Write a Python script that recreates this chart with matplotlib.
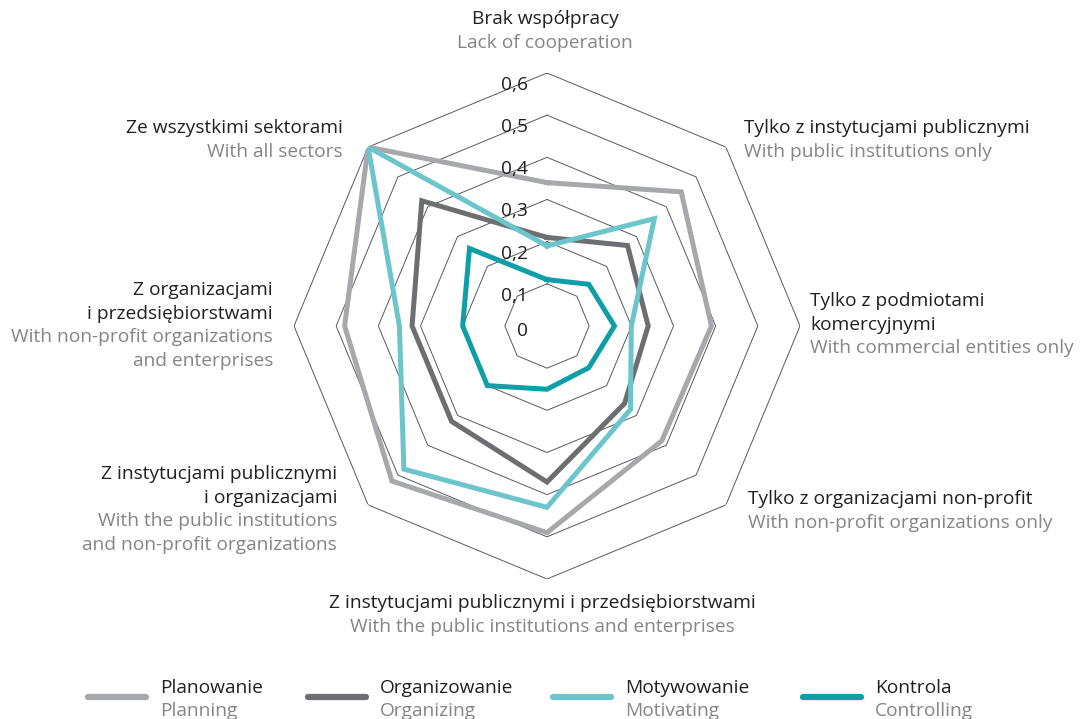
import numpy as np
import matplotlib
matplotlib.use("Agg")
import matplotlib.pyplot as plt
from matplotlib.lines import Line2D

plt.rcParams['font.family'] = ['Open Sans', 'DejaVu Sans']

# axes, clockwise from the top
labels_pl = ['Brak współpracy', 'Tylko z instytucjami publicznymi', 'Tylko z podmiotami\nkomercyjnymi',
             'Tylko z organizacjami non-profit', 'Z instytucjami publicznymi i przedsiębiorstwami',
             'Z instytucjami publicznymi\ni organizacjami', 'Z organizacjami\ni przedsiębiorstwami',
             'Ze wszystkimi sektorami']
labels_en = ['Lack of cooperation', 'With public institutions only', 'With commercial entities only',
             'With non-profit organizations only', 'With the public institutions and enterprises',
             'With the public institutions\nand non-profit organizations',
             'With non-profit organizations\nand enterprises', 'With all sectors']

planowanie = [0.34, 0.45, 0.39, 0.385, 0.49, 0.52, 0.48, 0.60]
organizowanie = [0.21, 0.27, 0.24, 0.26, 0.37, 0.32, 0.32, 0.42]
motywowanie = [0.19, 0.36, 0.20, 0.28, 0.43, 0.48, 0.35, 0.60]
kontrola = [0.11, 0.14, 0.16, 0.14, 0.15, 0.20, 0.20, 0.26]

series_pl = ['Planowanie', 'Organizowanie', 'Motywowanie', 'Kontrola']
series_en = ['Planning', 'Organizing', 'Motivating', 'Controlling']
colors = ['#a7a8ac', '#6d6e72', '#6cc5ca', '#0e9ea6']

ticks = [0, 0.1, 0.2, 0.3, 0.4, 0.5, 0.6]
tick_labels = ['0', '0,1', '0,2', '0,3', '0,4', '0,5', '0,6']

DARK = '#231f20'
GREY = '#848588'
FS = 13.8

W, H = 1083, 719
fig = plt.figure(figsize=(W / 100, H / 100), dpi=100)
cx, cy, R = 547, 326, 253
ax = fig.add_axes([(cx - R) / W, 1 - (cy + R) / H, 2 * R / W, 2 * R / H], projection='polar')
ax.set_theta_offset(np.pi / 2)
ax.set_theta_direction(-1)
ax.set_ylim(0, 0.6)
ax.grid(False)
ax.spines['polar'].set_visible(False)
ax.set_xticks([])
ax.set_yticks([])
ax.patch.set_alpha(0)

n = len(labels_pl)
theta = np.arange(n + 1) * 2 * np.pi / n

# octagon grid
for t in ticks[1:]:
    ax.plot(theta, [t] * (n + 1), color='#58595b', lw=0.7, zorder=1)

lines = []
for vals, c in zip([planowanie, organizowanie, motywowanie, kontrola], colors):
    ln, = ax.plot(theta, list(vals) + [vals[0]], color=c, lw=3.6, solid_joinstyle='miter', zorder=3)
    lines.append(ln)

for t, lab in zip(ticks, tick_labels):
    dy = -5 if t == 0 else -12
    ax.annotate(lab, xy=(0, t), xytext=(-19, dy), textcoords='offset pixels',
                ha='right', va='center', fontsize=FS, color=DARK, zorder=5)

# category labels: (x, y of first line, alignment)
label_pos = [(545, 19, 'center'), (744, 128, 'left'), (810, 301, 'left'), (748, 499, 'left'),
             (542, 603, 'center'), (337, 474, 'right'), (273, 290, 'right'), (343, 128, 'right')]
step = 23.7
for (x, y, ha), pl, en in zip(label_pos, labels_pl, labels_en):
    npl = pl.count('\n') + 1
    for i, s in enumerate(pl.split('\n')):
        fig.text(x / W, 1 - (y + i * step) / H, s, ha=ha, va='center', fontsize=FS, color=DARK)
    for i, s in enumerate(en.split('\n')):
        fig.text(x / W, 1 - (y + (npl + i) * step) / H, s, ha=ha, va='center', fontsize=FS, color=GREY)

# legend
leg_x = [88, 308, 553, 803]
for x0, ln, pl, en in zip(leg_x, lines, series_pl, series_en):
    fig.add_artist(Line2D([(x0) / W, (x0 + 58) / W], [1 - 697 / H] * 2, color=ln.get_color(),
                          lw=4.5, solid_capstyle='round', transform=fig.transFigure))
    fig.text((x0 + 72) / W, 1 - 688 / H, pl, ha='left', va='center', fontsize=FS, color=DARK)
    fig.text((x0 + 72) / W, 1 - 711 / H, en, ha='left', va='center', fontsize=FS, color=GREY)

fig.savefig('out.png', dpi=100)
